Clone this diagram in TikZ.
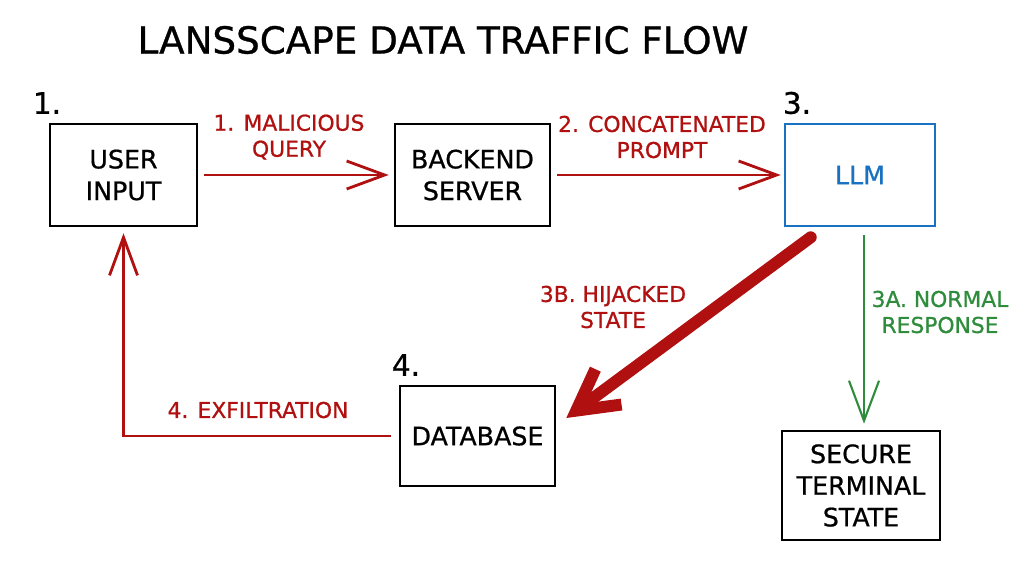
\documentclass[tikz,border=0pt]{standalone}
\usepackage{fontspec}
\setmainfont{DejaVu Sans}[FakeBold=0.8]
\usepackage{tikz}
\usetikzlibrary{arrows.meta, positioning, calc}
\definecolor{hijackred}{RGB}{176,16,16}
\definecolor{llmblue}{RGB}{25,113,194}
\definecolor{okgreen}{RGB}{47,140,60}

\begin{document}
\begin{tikzpicture}[x=0.025cm, y=-0.025cm,
    box/.style={draw, line width=1.8pt, align=center, inner sep=0pt, font=\fontsize{18}{22.5}\selectfont},
    lbl/.style={align=center, text=hijackred, font=\fontsize{15.5}{18.5}\selectfont},
    num/.style={font=\fontsize{21}{24}\selectfont},
    flow/.style={hijackred, line width=2pt, -{Straight Barb[length=0.95cm, width=0.7cm]}}]
    \useasboundingbox (0,0) rectangle (1024,572);

    % Tiêu đề
    \node[font=\fontsize{26.5}{30}\selectfont] (title) at (443,40) {LANSSCAPE DATA TRAFFIC FLOW};

    % Các khối
    \node[box, minimum width=3.675cm, minimum height=2.55cm] (user) at (123.5,175) {USER\\INPUT};
    \node[box, minimum width=3.875cm, minimum height=2.55cm] (backend) at (472.5,175) {BACKEND\\SERVER};
    \node[box, draw=llmblue, text=llmblue, minimum width=3.75cm, minimum height=2.55cm] (llm) at (860,175) {LLM};
    \node[box, minimum width=3.875cm, minimum height=2.5cm] (db) at (477.5,436) {DATABASE};
    \node[box, minimum width=3.95cm, minimum height=2.725cm] (secure) at (861,485.5) {SECURE\\TERMINAL\\STATE};

    % Số thứ tự
    \node[num] (n1) at (47,103) {1.};
    \node[num] (n3) at (797,103) {3.};
    \node[num] (n4) at (406,365) {4.};

    % Luồng dữ liệu
    \draw[flow, shorten <=0.15cm, shorten >=0.125cm] (user) -- (backend);
    \draw[flow, shorten <=0.15cm, shorten >=0.075cm] (backend) -- (llm);
    \draw[hijackred, line width=8.5pt, line cap=round, -{Straight Barb[length=1cm, width=1.1cm]}]
        ([xshift=0.675cm, yshift=-0.25cm]llm.south west) -- ([xshift=0.25cm, yshift=0.45cm]db.east);
    \draw[okgreen, line width=1.5pt, shorten <=0.2cm, shorten >=0.15cm, -{Straight Barb[length=1cm, width=0.75cm]}]
        ([xshift=0.1cm]llm.south) -- ([xshift=0.1cm]llm.south |- secure.north);
    \draw[flow, shorten <=0.2cm, shorten >=0.15cm] (db.west) -| (user.south);

    % Nhãn
    \node[lbl] (q1) at (289,137) {1. MALICIOUS\\QUERY};
    \node[lbl] (q2) at (662,137) {2. CONCATENATED\\PROMPT};
    \node[lbl] (q3b) at (613,307) {3B. HIJACKED\\STATE};
    \node[lbl, text=okgreen] (q3a) at (940,312) {3A. NORMAL\\RESPONSE};
    \node[lbl] (q4) at (258,410) {4. EXFILTRATION};
\end{tikzpicture}
\end{document}
